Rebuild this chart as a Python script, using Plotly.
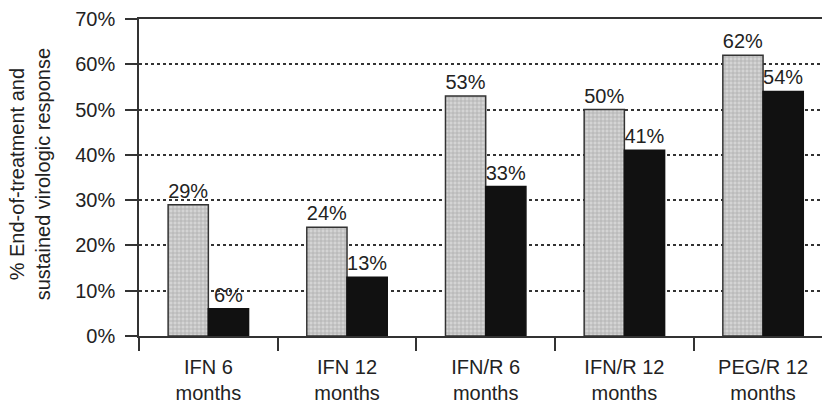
import plotly.graph_objects as go

# Treatment regimens and response rates (%)
categories = ["IFN 6<br>months", "IFN 12<br>months", "IFN/R 6<br>months",
              "IFN/R 12<br>months", "PEG/R 12<br>months"]
end_of_treatment = [29, 24, 53, 50, 62]
sustained = [6, 13, 33, 41, 54]
y_ticks = [0, 10, 20, 30, 40, 50, 60, 70]

FONT = "Liberation Sans, Arial, Helvetica, sans-serif"
INK = "#222222"

fig = go.Figure()

fig.add_trace(go.Bar(
    x=categories, y=end_of_treatment,
    name="End-of-treatment response",
    marker=dict(
        color="#cccccc",
        line=dict(color="#333333", width=1.5),
        pattern=dict(shape="+", fgcolor="#7a7a7a", bgcolor="#d4d4d4",
                     size=4, solidity=0.3),
    ),
    text=[f"{v}%" for v in end_of_treatment],
    textposition="outside",
    textfont=dict(size=20, color=INK, family=FONT),
    cliponaxis=False,
))

fig.add_trace(go.Bar(
    x=categories, y=sustained,
    name="Sustained virologic response",
    marker=dict(color="#111111", line=dict(color="#111111", width=1.5)),
    text=[f"{v}%" for v in sustained],
    textposition="outside",
    textfont=dict(size=20, color=INK, family=FONT),
    cliponaxis=False,
))

fig.update_layout(
    width=822, height=407,
    margin=dict(l=139, r=0, t=19, b=71),
    paper_bgcolor="white", plot_bgcolor="white",
    barmode="group", bargap=0.42, bargroupgap=0.0,
    showlegend=False,
    font=dict(family=FONT, color=INK, size=20),
    xaxis=dict(
        range=[-0.5, 4.425],
        showline=True, linecolor="#333333", linewidth=1.5, mirror=True,
        ticks="outside", tickson="boundaries", ticklen=13,
        tickcolor="#333333", tickwidth=1.5,
        ticklabelstandoff=12,
        tickfont=dict(size=20, color=INK, family=FONT),
        showgrid=False,
    ),
    yaxis=dict(
        range=[0, 70],
        tickvals=y_ticks,
        ticktext=[f"{v}%" for v in y_ticks],
        showline=True, linecolor="#333333", linewidth=1.5,
        ticks="outside", ticklen=12, tickcolor="#333333", tickwidth=1.5,
        ticklabelstandoff=6,
        tickfont=dict(size=20, color=INK, family=FONT),
        showgrid=True, gridcolor="#333333", gridwidth=1.5, griddash="dot",
        zeroline=False,
    ),
)

# Two-line rotated axis title
fig.add_annotation(
    text="% End-of-treatment and<br>sustained virologic response",
    xref="paper", yref="paper",
    x=(30 - 139) / 683, y=0.51,
    xanchor="center", yanchor="middle",
    textangle=-90, showarrow=False,
    font=dict(size=20, color=INK, family=FONT),
)

fig.write_html("out.html")
